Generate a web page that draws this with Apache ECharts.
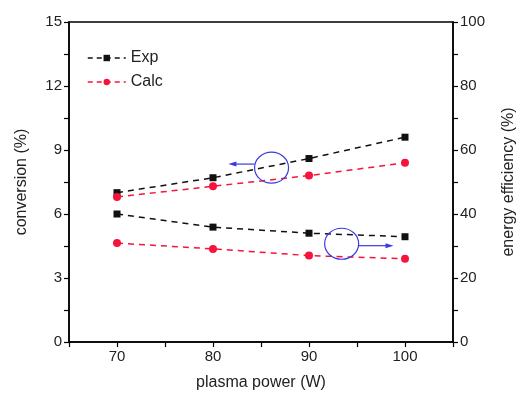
<!DOCTYPE html>
<html><head><meta charset="utf-8">
<script src="https://cdn.jsdelivr.net/npm/echarts@6/dist/echarts.min.js"></script>
<style>html,body{margin:0;padding:0;background:#fff}#c{width:522px;height:397px}</style>
</head><body><div id="c"></div>
<script>
const power = [70, 80, 90, 100];
const convExp = [7.0, 7.7, 8.6, 9.6];
const convCalc = [6.8, 7.3, 7.8, 8.4];
const effExp = [40.0, 35.9, 34.0, 32.9];
const effCalc = [30.9, 29.1, 27.0, 26.0];
const leftTicks = [0, 3, 6, 9, 12, 15];
const rightTicks = [0, 20, 40, 60, 80, 100];

const black = '#111111', red = '#f5143c', blue = '#3a3ae0';
const font = 'Liberation Sans, Arial, sans-serif';
const chart = echarts.init(document.getElementById('c'), null, {renderer: 'canvas'});
function mk(name, data, yi, color, sym, size) {
  return {
    name: name, type: 'line', yAxisIndex: yi,
    data: power.map((p, i) => [p, data[i]]),
    symbol: sym, symbolSize: size,
    itemStyle: {color: color},
    lineStyle: {color: color, width: 1.5, type: [6, 5]},
    z: 3
  };
}
const axisCommon = {
  axisLine: {show: true, lineStyle: {color: '#000', width: 1.5}},
  axisTick: {show: true, inside: false, length: 5, lineStyle: {color: '#000', width: 1.2}},
  minorTick: {show: true, splitNumber: 2, length: 5, lineStyle: {color: '#000', width: 1.2}},
  splitLine: {show: false},
  axisLabel: {fontFamily: font, fontSize: 15, color: '#222', margin: 7},
  nameTextStyle: {fontFamily: font, fontSize: 16, color: '#222'}
};
chart.setOption({
  animation: false,
  backgroundColor: '#fff',
  grid: {left: 69, right: 69, top: 22, bottom: 55, show: true, borderColor: '#000', borderWidth: 1.5,
         containLabel: false, outerBoundsMode: 'none'},
  legend: {
    data: ['Exp', 'Calc'], orient: 'vertical', left: 82, top: 45,
    itemWidth: 38, itemHeight: 8, itemGap: 8,
    lineStyle: {type: [5, 4], width: 1.5},
    textStyle: {fontFamily: font, fontSize: 16, color: '#222'}
  },
  xAxis: Object.assign({}, axisCommon, {
    type: 'value', min: 65, max: 105, interval: 5,
    minorTick: {show: false},
    axisLabel: Object.assign({}, axisCommon.axisLabel, {
      formatter: v => power.includes(v) ? String(v) : ''
    }),
    name: 'plasma power (W)', nameLocation: 'middle', nameGap: 33
  }),
  yAxis: [
    Object.assign({}, axisCommon, {
      type: 'value', min: leftTicks[0], max: leftTicks[leftTicks.length - 1], interval: 3,
      name: 'conversion (%)', nameLocation: 'middle', nameGap: 39
    }),
    Object.assign({}, axisCommon, {
      type: 'value', position: 'right', min: rightTicks[0], max: rightTicks[rightTicks.length - 1], interval: 20,
      name: 'energy efficiency (%)', nameLocation: 'middle', nameGap: 48, nameRotate: 90
    })
  ],
  series: [
    mk('Exp', convExp, 0, black, 'rect', 7),
    mk('Calc', convCalc, 0, red, 'circle', 8),
    mk('Exp', effExp, 1, black, 'rect', 7),
    mk('Calc', effCalc, 1, red, 'circle', 8)
  ]
});

// annotations anchored in data coordinates
const ann = [
  {c: [86.1, 8.17], yi: 0, tip: [81.6, 8.34], dir: -1},
  {c: [93.4, 30.7], yi: 1, tip: [98.8, 30.1], dir: 1}
];
const graphics = [];
ann.forEach(a => {
  const c = chart.convertToPixel({xAxisIndex: 0, yAxisIndex: a.yi}, a.c);
  const t = chart.convertToPixel({xAxisIndex: 0, yAxisIndex: a.yi}, a.tip);
  const rx = 17, ry = 15.5;
  graphics.push({type: 'ellipse', shape: {cx: c[0], cy: c[1], rx: rx, ry: ry},
    style: {fill: 'none', stroke: blue, lineWidth: 1.2}, z: 10});
  const sx = c[0] + a.dir * rx;
  graphics.push({type: 'line', shape: {x1: sx, y1: t[1], x2: t[0] - a.dir * 6, y2: t[1]},
    style: {stroke: blue, lineWidth: 1.2}, z: 10});
  graphics.push({type: 'polygon', shape: {points: [[t[0], t[1]], [t[0] - a.dir * 8, t[1] - 2.5], [t[0] - a.dir * 8, t[1] + 2.5]]},
    style: {fill: blue}, z: 10});
});
chart.setOption({graphic: graphics});
</script></body></html>
